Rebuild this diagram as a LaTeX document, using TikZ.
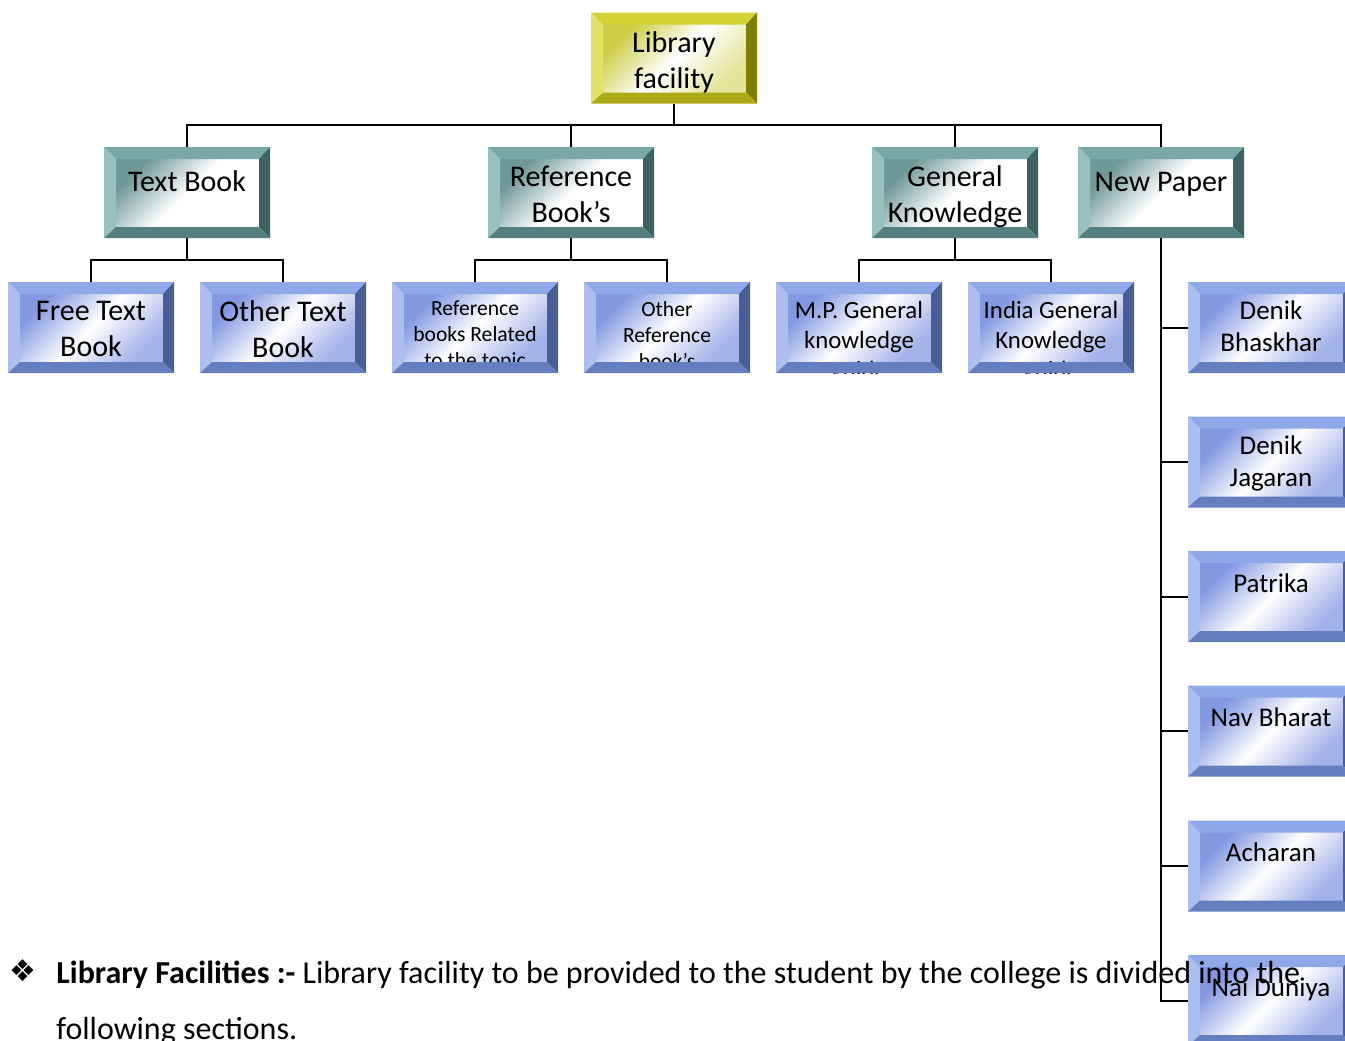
\documentclass[tikz,border=0pt]{standalone}
\usepackage{fontspec}
\setmainfont{Carlito}
\newfontfamily\dingfont{DejaVu Sans}
\usepackage{tikz}

\definecolor{goldL}{RGB}{226,226,104}
\definecolor{goldT}{RGB}{212,210,52}
\definecolor{goldR}{RGB}{128,128,0}
\definecolor{goldB}{RGB}{172,170,22}
\definecolor{goldF}{RGB}{205,205,70}
\definecolor{tealL}{RGB}{152,192,192}
\definecolor{tealT}{RGB}{122,168,168}
\definecolor{tealR}{RGB}{62,98,98}
\definecolor{tealB}{RGB}{86,128,128}
\definecolor{tealF}{RGB}{112,152,152}
\definecolor{blueL}{RGB}{172,190,240}
\definecolor{blueT}{RGB}{142,168,232}
\definecolor{blueR}{RGB}{74,94,150}
\definecolor{blueB}{RGB}{100,126,192}
\definecolor{blueF}{RGB}{132,152,226}

\newcommand{\bigfont}{\fontsize{15}{18}\selectfont}
\newcommand{\midfont}{\fontsize{13.5}{16}\selectfont}
\newcommand{\gkfont}{\fontsize{12.4}{15}\selectfont}
\newcommand{\smallfont}{\fontsize{10.8}{13}\selectfont}
\newcommand{\parafont}{\fontsize{16}{19}\selectfont}

% bevelled face: shading, fill-colours of left/top/right/bottom, font, text
\newcommand{\bevelface}[7]{%
  \coordinate (pnw) at (path picture bounding box.north west);
  \coordinate (pne) at (path picture bounding box.north east);
  \coordinate (pse) at (path picture bounding box.south east);
  \coordinate (psw) at (path picture bounding box.south west);
  \coordinate (inw) at ([shift={(6pt,-6pt)}]pnw);
  \coordinate (ine) at ([shift={(-5.5pt,-6pt)}]pne);
  \coordinate (ise) at ([shift={(-5.5pt,5.5pt)}]pse);
  \coordinate (isw) at ([shift={(6pt,5.5pt)}]psw);
  \shade[#1] (inw) rectangle (ise);
  \node[anchor=north, align=center, inner sep=0pt, minimum width=0pt, minimum height=0pt,
        font=#6, execute at begin node=\strut] (boxlabel)
    at ([yshift=-9.5pt]path picture bounding box.north) {#7};
  \fill[#2] (pnw) -- (inw) -- (isw) -- (psw) -- cycle;
  \fill[#3] (pnw) -- (pne) -- (ine) -- (inw) -- cycle;
  \fill[#4] (pne) -- (pse) -- (ise) -- (ine) -- cycle;
  \fill[#5] (psw) -- (pse) -- (ise) -- (isw) -- cycle;
}

\tikzset{
  box/.style={minimum width=83pt, minimum height=45.5pt, inner sep=0pt, outer sep=0pt},
  goldshade/.style={top color=goldF!55, bottom color=goldF, middle color=white, shading angle=-135},
  tealshade/.style={top color=white, bottom color=tealF, middle color=white, shading angle=-135},
  blueshade/.style={top color=blueF!75, bottom color=blueF, middle color=white, shading angle=-135},
  goldbox/.style={box, path picture={\bevelface{goldshade}{goldL}{goldT}{goldR}{goldB}{\bigfont}{#1}}},
  tealbox/.style={box, path picture={\bevelface{tealshade}{tealL}{tealT}{tealR}{tealB}{\bigfont}{#1}}},
  bluebox/.style 2 args={box, path picture={\bevelface{blueshade}{blueL}{blueT}{blueR}{blueB}{#1}{#2}}},
  tree/.style={line width=1pt}
}

\begin{document}
\begin{tikzpicture}[x=0.5pt, y=-0.5pt]
  \useasboundingbox (0,0) rectangle (1345,1040);
  \clip (0,0) rectangle (1345,1040);

  % Root
  \node[goldbox={Library\\facility}] (library) at (674,58) {};

  % Sections
  \node[tealbox={Text Book}] (textbook) at (187,192.5) {};
  \node[tealbox={Reference\\Book’s}] (refbook) at (571,192.5) {};
  \node[tealbox={General\\Knowledge}] (genknow) at (955,192.5) {};
  \node[tealbox={New Paper}] (newpaper) at (1161,192.5) {};

  % Sub sections
  \node[bluebox={\bigfont}{Free Text\\Book}] (freetext) at (91,327.5) {};
  \node[bluebox={\bigfont}{Other Text\\Book}] (othertext) at (283,327.5) {};
  \node[bluebox={\smallfont}{Reference\\books Related\\to the topic}] (reftopic) at (475,327.5) {};
  \node[bluebox={\smallfont}{Other\\Reference\\book’s}] (otherref) at (667,327.5) {};
  \node[bluebox={\gkfont}{M.P. General\\knowledge\\guide}] (mpgk) at (859,327.5) {};
  \node[bluebox={\gkfont}{India General\\Knowledge\\guide}] (indiagk) at (1051,327.5) {};

  % News papers
  \node[bluebox={\midfont}{Denik\\Bhaskhar}] (bhaskhar) at (1271,327.5) {};
  \node[bluebox={\midfont}{Denik\\Jagaran}] (jagaran) at (1271,462) {};
  \node[bluebox={\midfont}{Patrika}] (patrika) at (1271,596.5) {};
  \node[bluebox={\midfont}{Nav Bharat}] (navbharat) at (1271,731) {};
  \node[bluebox={\midfont}{Acharan}] (acharan) at (1271,866) {};
  \node[bluebox={\midfont}{Nai Duniya}] (naiduniya) at (1271,1000.5) {};

  % Buses
  \coordinate (rootbus) at (674,125);
  \coordinate (textbus) at (187,260);
  \coordinate (refbus) at (571,260);
  \coordinate (genbus) at (955,260);

  % Lines
  \draw[tree] (library.south) -- (rootbus);
  \draw[tree] (textbook.north) |- (rootbus);
  \draw[tree] (refbook.north) |- (rootbus);
  \draw[tree] (genknow.north) |- (rootbus);
  \draw[tree] (newpaper.north) |- (rootbus);

  \draw[tree] (textbook.south) -- (textbus);
  \draw[tree] (freetext.north) |- (textbus);
  \draw[tree] (othertext.north) |- (textbus);

  \draw[tree] (refbook.south) -- (refbus);
  \draw[tree] (reftopic.north) |- (refbus);
  \draw[tree] (otherref.north) |- (refbus);

  \draw[tree] (genknow.south) -- (genbus);
  \draw[tree] (mpgk.north) |- (genbus);
  \draw[tree] (indiagk.north) |- (genbus);

  \draw[tree] (newpaper.south) |- (bhaskhar.west);
  \draw[tree] (newpaper.south) |- (jagaran.west);
  \draw[tree] (newpaper.south) |- (patrika.west);
  \draw[tree] (newpaper.south) |- (navbharat.west);
  \draw[tree] (newpaper.south) |- (acharan.west);
  \draw[tree] (newpaper.south) |- (naiduniya.west);

  % Text below
  \node[font=\fontsize{15}{18}\dingfont, inner sep=0pt] (bullet) at (23,971) {❖};
  \node[anchor=base west, font=\parafont, inner sep=0pt] (facilities) at (56,983)
    {\textbf{Library Facilities :-} Library facility to be provided to the student by the college is divided into the};
  \node[anchor=base west, font=\parafont, inner sep=0pt] (sections) at (56,1039) {following sections.};
\end{tikzpicture}
\end{document}
